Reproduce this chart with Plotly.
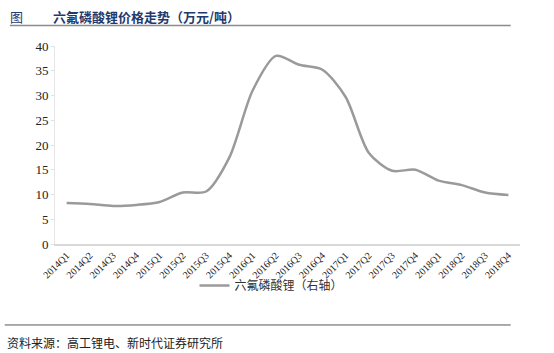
import plotly.graph_objects as go

quarters = ["2014Q1","2014Q2","2014Q3","2014Q4","2015Q1","2015Q2","2015Q3","2015Q4",
            "2016Q1","2016Q2","2016Q3","2016Q4","2017Q1","2017Q2","2017Q3","2017Q4",
            "2018Q1","2018Q2","2018Q3","2018Q4"]
lipf6_price = [8.3, 8.1, 7.7, 7.9, 8.5, 10.4, 10.6, 17.5,
               31.0, 38.0, 36.2, 35.2, 29.7, 18.4, 14.8, 15.0,
               12.8, 11.9, 10.4, 9.9]
y_ticks = [0, 5, 10, 15, 20, 25, 30, 35, 40]

title_text = "六氟磷酸锂价格走势（万元/吨）"
fig_label = "图"
series_name = "六氟磷酸锂（右轴）"
source_text = "资料来源：高工锂电、新时代证券研究所"

serif = "Liberation Serif, Times New Roman, serif"
cjk = "Noto Sans CJK SC"

fig = go.Figure()
fig.add_trace(go.Scatter(
    x=quarters, y=lipf6_price, mode="lines", name=series_name,
    line=dict(color="#9a9a9a", width=2.5, shape="spline", smoothing=0.8),
))

fig.update_layout(
    width=554, height=353,
    margin=dict(l=55, r=34, t=46, b=109),
    paper_bgcolor="white", plot_bgcolor="white",
    showlegend=True,
    legend=dict(orientation="h", x=0.30, y=-0.21, xanchor="left", yanchor="middle",
                font=dict(family=cjk, size=12, color="#333333"),
                itemwidth=30, bgcolor="rgba(0,0,0,0)"),
    xaxis=dict(
        type="category", range=[-0.5, 19.5], tickangle=-45,
        tickfont=dict(family=serif, size=10, color="#222222"),
        showline=True, linecolor="#d9d9d9", linewidth=1.5,
        showgrid=False, ticks="", zeroline=False,
    ),
    yaxis=dict(
        range=[0, 40], tickvals=y_ticks,
        tickfont=dict(family=serif, size=13, color="#222222"),
        showline=True, linecolor="#e6e6e6", linewidth=1,
        ticks="outside", ticklen=3, tickcolor="#e0e0e0",
        showgrid=False, zeroline=False,
    ),
    annotations=[
        dict(text=fig_label, xref="paper", yref="paper", x=-0.101, y=1.15,
             xanchor="left", yanchor="middle", showarrow=False,
             font=dict(family=cjk, size=13, color="#1f3a6e")),
        dict(text="<b>" + title_text + "</b>", xref="paper", yref="paper", x=-0.009, y=1.15,
             xanchor="left", yanchor="middle", showarrow=False,
             font=dict(family=cjk, size=13, color="#1f3a6e")),
        dict(text=source_text, xref="paper", yref="paper", x=-0.108, y=-0.496,
             xanchor="left", yanchor="middle", showarrow=False,
             font=dict(family=cjk, size=12, color="#222222")),
    ],
    shapes=[
        dict(type="line", xref="paper", yref="paper", x0=-0.097, x1=0.98, y0=1.103, y1=1.103,
             line=dict(color="#8c8c8c", width=1.5)),
        dict(type="line", xref="paper", yref="paper", x0=-0.108, x1=0.98, y0=-0.409, y1=-0.409,
             line=dict(color="#555555", width=1)),
    ],
)

fig.write_html("out.html")
